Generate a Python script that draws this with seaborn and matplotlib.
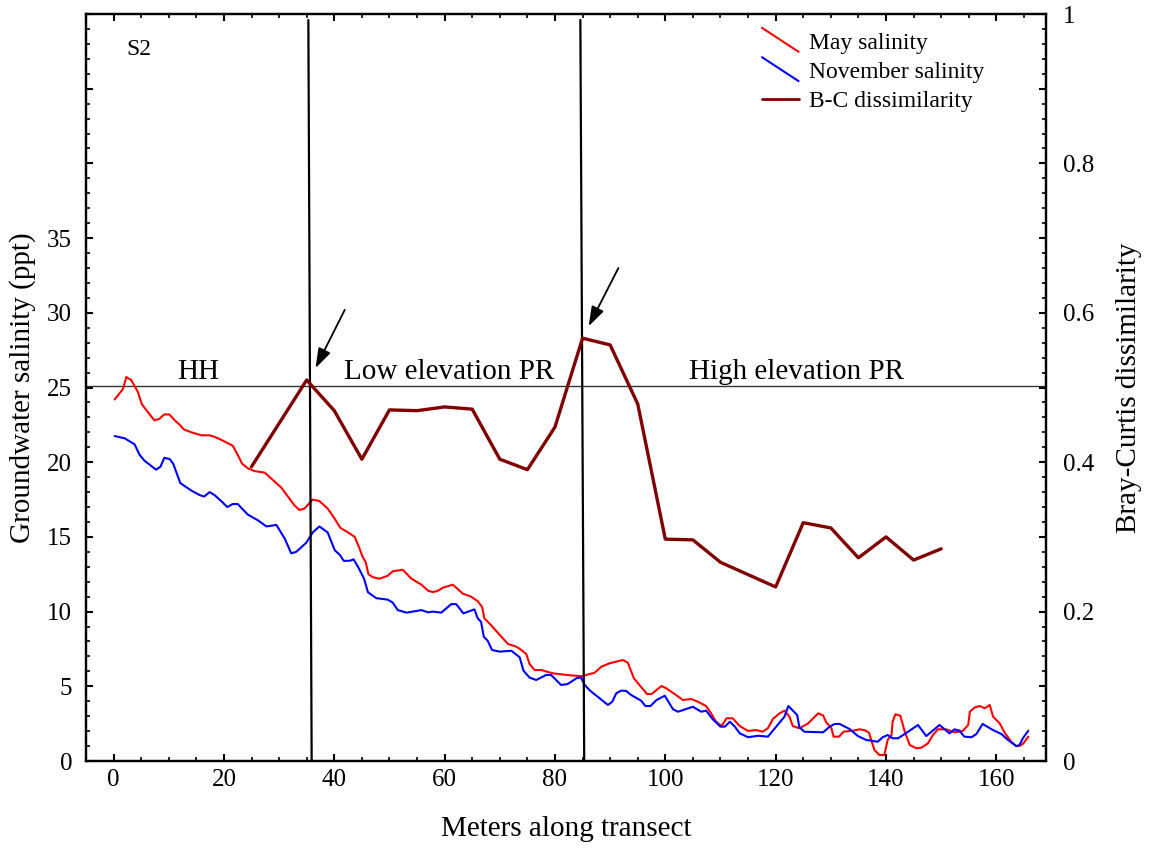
import matplotlib
matplotlib.use("Agg")
import matplotlib.pyplot as plt
from matplotlib.ticker import MultipleLocator, FuncFormatter
from matplotlib.legend_handler import HandlerBase
from matplotlib.lines import Line2D
import seaborn as sns

# --- Groundwater salinity along transect S2 (ppt) ---
may_m = [0.2, 1.7, 2.3, 3.2, 4.4, 5.1, 5.9, 7.4, 8.3, 9.2, 10.1, 11.1, 12.0, 12.7, 14.1,
         15.9, 17.4, 18.3, 19.5, 21.6, 22.5, 23.3, 24.3, 25.6, 27.4, 28.6, 30.4, 31.6, 32.8,
         33.7, 34.6, 36.1, 37.3, 38.8, 40.1, 41.1, 42.5, 43.7, 44.5, 45.1, 45.7, 46.2, 47.0,
         48.2, 49.7, 50.6, 52.4, 54.0, 55.8, 57.0, 57.9, 58.8, 59.7, 61.5, 63.3, 64.8, 66.0,
         66.8, 67.2, 68.5, 70.0, 71.5, 73.0, 73.9, 74.8, 75.4, 76.3, 77.5, 79.6, 82.1, 84.8,
         87.2, 88.4, 89.9, 91.1, 92.3, 93.2, 94.3, 95.3, 96.7, 97.5, 99.3, 100.2, 101.7, 103.2,
         104.7, 105.9, 107.4, 108.3, 109.2, 110.2, 111.1, 112.2, 113.5, 115.0, 116.5, 117.6,
         118.6, 119.5, 120.7, 121.6, 122.5, 123.1, 124.3, 125.9, 127.7, 128.6, 129.2, 130.1,
         130.5, 131.5, 132.3, 134.0, 135.2, 136.1, 136.9, 137.9, 138.8, 139.7, 140.3, 141.0,
         141.2, 141.7, 142.6, 143.4, 144.3, 145.5, 146.4, 147.6, 148.5, 149.4, 150.9, 152.4,
         153.9, 154.9, 155.2, 156.1, 157.0, 157.9, 158.8, 159.4, 160.6, 161.5, 162.7, 163.6,
         164.2, 164.9, 165.8]
may_ppt = [24.2, 24.9, 25.7, 25.5, 24.7, 23.9, 23.5, 22.8, 22.9, 23.2, 23.2, 22.8, 22.5, 22.2, 22.0,
           21.8, 21.8, 21.7, 21.5, 21.1, 20.5, 19.9, 19.6, 19.4, 19.3, 18.9, 18.3, 17.7, 17.1,
           16.8, 16.9, 17.5, 17.4, 16.9, 16.2, 15.6, 15.3, 15.0, 14.3, 13.7, 13.3, 12.5, 12.3,
           12.2, 12.4, 12.7, 12.8, 12.2, 11.8, 11.4, 11.3, 11.4, 11.6, 11.8, 11.2, 11.0, 10.7,
           10.3, 9.55, 9.06, 8.43, 7.83, 7.65, 7.43, 7.16, 6.49, 6.09, 6.09, 5.87, 5.76, 5.67,
           5.91, 6.31, 6.54, 6.65, 6.76, 6.58, 5.54, 5.09, 4.48, 4.48, 5.02, 4.86, 4.48, 4.08,
           4.15, 3.97, 3.68, 3.19, 2.63, 2.34, 2.86, 2.86, 2.34, 2.01, 2.07, 1.96,
           2.19, 2.81, 3.19, 3.37, 2.97, 2.34, 2.19, 2.52, 3.19, 3.05, 2.57, 2.20,
           1.63, 1.63, 1.96, 2.03, 2.12, 2.07, 1.90, 0.74, 0.40, 0.40, 1.41, 1.74,
           2.63, 3.13, 3.03, 1.96, 1.07, 0.85, 0.89, 1.18, 1.74, 2.12, 2.12, 1.92,
           2.01, 2.41, 3.30, 3.59, 3.68, 3.53, 3.75, 2.97, 2.52, 1.90, 1.29, 1.00,
           1.00, 1.18, 1.63]

nov_m = [0.2, 2.0, 3.8, 4.7, 5.6, 7.7, 8.5, 9.2, 10.2, 10.8, 12.1, 14.1, 15.6, 16.4, 17.4,
         18.3, 19.5, 20.6, 21.6, 22.5, 24.3, 26.2, 27.7, 29.5, 31.0, 32.2, 33.1, 34.9, 36.1,
         37.3, 38.8, 40.1, 41.0, 41.7, 42.8, 43.5, 44.3, 45.4, 46.1, 47.6, 49.7, 50.6, 51.5,
         53.1, 54.2, 55.8, 57.0, 57.9, 59.4, 61.2, 62.1, 63.4, 65.4, 66.0, 66.6, 67.1, 67.8,
         68.6, 70.0, 72.1, 73.6, 74.3, 75.4, 76.6, 78.4, 79.3, 81.1, 82.3, 83.9, 84.7, 85.4,
         86.3, 88.1, 89.6, 90.4, 91.1, 92.0, 92.9, 93.8, 95.6, 96.4, 97.3, 98.4, 99.9, 101.4,
         102.3, 105.0, 106.5, 107.4, 108.6, 110.0, 110.8, 111.7, 112.6, 113.5, 115.0, 116.8,
         118.6, 120.1, 121.6, 122.3, 123.9, 124.3, 125.2, 128.6, 129.8, 130.7, 131.6, 133.4,
         134.9, 136.4, 138.5, 139.4, 140.3, 141.2, 142.2, 144.0, 145.8, 147.3, 149.7, 151.5,
         152.4, 153.3, 154.2, 155.5, 156.4, 157.5, 159.4, 160.9, 162.1, 163.6, 164.2, 164.8,
         165.8]
nov_ppt = [21.75, 21.6, 21.2, 20.5, 20.1, 19.5, 19.7, 20.3, 20.2, 19.9, 18.6, 18.1, 17.8, 17.7, 18.0,
           17.8, 17.4, 17.0, 17.2, 17.2, 16.5, 16.1, 15.7, 15.8, 14.9, 13.9, 14.0, 14.6, 15.3,
           15.7, 15.3, 14.1, 13.8, 13.4, 13.4, 13.5, 13.0, 12.2, 11.3, 10.9, 10.8, 10.6, 10.1,
           9.93, 10.0, 10.1, 9.95, 10.0, 9.93, 10.5, 10.5, 9.88, 10.15, 9.55, 9.32, 8.32, 8.05,
           7.43, 7.32, 7.38, 6.94, 6.04, 5.58, 5.42, 5.76, 5.76, 5.09, 5.15, 5.54, 5.59, 5.09,
           4.73, 4.20, 3.75, 3.97, 4.53, 4.71, 4.69, 4.42, 4.04, 3.68, 3.68, 4.08, 4.37, 3.46,
           3.30, 3.63, 3.30, 3.37, 2.79, 2.30, 2.30, 2.63, 2.30, 1.85, 1.59, 1.69,
           1.63, 2.30, 2.97, 3.68, 3.08, 2.26, 1.96, 1.92, 2.30, 2.48, 2.48, 2.14,
           1.67, 1.41, 1.29, 1.59, 1.74, 1.52, 1.52, 1.96, 2.41, 1.67, 2.41, 1.85,
           2.12, 2.03, 1.63, 1.59, 1.81, 2.48, 2.07, 1.81, 1.41, 1.00, 1.07, 1.52,
           2.03]

# --- Bray-Curtis dissimilarity between adjacent windows ---
bc_m = [25, 35, 40, 45, 50, 55, 60, 65, 70, 75, 80, 85, 90, 95, 100, 105, 110, 120,
        125, 130, 135, 140, 145, 150]
bc_val = [0.394, 0.510, 0.469, 0.404, 0.470, 0.469, 0.474, 0.471, 0.404, 0.390, 0.447,
          0.566, 0.557, 0.478, 0.297, 0.296, 0.266, 0.233, 0.319, 0.312, 0.272, 0.300,
          0.269, 0.284]

# zone boundaries (top and bottom x of each hand-drawn divider) and threshold level
divider_top_m = [35.3, 84.6]
divider_bottom_m = [35.9, 85.3]
divider_top_ppt = 49.6
threshold_ppt = 25.1

zone_labels = ["HH", "Low elevation PR", "High elevation PR"]
zone_label_m = [15.4, 60.9, 123.8]
zone_label_ppt = 25.55

# arrows pointing at the dissimilarity peaks: (tail, head)
arrow_tails = [(41.9, 30.2), (91.5, 33.0)]
arrow_heads = [(36.6, 26.3), (86.1, 29.1)]

sns.set_style("ticks")
plt.rcParams["font.family"] = ["Liberation Serif", "DejaVu Serif"]
plt.rcParams["mathtext.fontset"] = "stix"
for key in ("text.color", "axes.labelcolor", "xtick.color", "ytick.color", "axes.edgecolor"):
    plt.rcParams[key] = "black"

fig = plt.figure(figsize=(11.5, 8.49), dpi=100)
ax = fig.add_axes([86 / 1150, 1 - 761 / 849, (1046 - 86) / 1150, (761 - 14) / 849])

red = "#ff0000"
blue = "#0000ff"
maroon = "#800000"

sns.lineplot(x=may_m, y=may_ppt, ax=ax, color=red, lw=1.5, estimator=None,
             label="May salinity", legend=False)
sns.lineplot(x=nov_m, y=nov_ppt, ax=ax, color=blue, lw=1.5, estimator=None,
             label="November salinity", legend=False)

ax.set_xlim(-5, 169)
ax.set_ylim(0, 50)

ax2 = ax.twinx()
sns.lineplot(x=bc_m, y=bc_val, ax=ax2, color=maroon, lw=2.4, estimator=None,
             label="B-C dissimilarity", legend=False)
ax2.set_ylim(0, 1)
ax2.set_xlim(-5, 169)

# threshold line and zone dividers
ax.axhline(threshold_ppt, color="#333333", lw=1.0, zorder=1)
for xt, xb in zip(divider_top_m, divider_bottom_m):
    ax.plot([xt, xb], [divider_top_ppt, 0], color="black", lw=1.6, zorder=3)

for lab, xm in zip(zone_labels, zone_label_m):
    ax.text(xm, zone_label_ppt, lab, ha="center", va="baseline", fontsize=21)

ax.text(4.5, 47.6, "S2", ha="center", va="center", fontsize=17)

for tail, head in zip(arrow_tails, arrow_heads):
    ax.annotate("", xy=head, xytext=tail,
                arrowprops=dict(arrowstyle="-|>,head_length=1.2,head_width=0.4",
                                color="black", lw=1.3, shrinkA=0, shrinkB=0))

# axes styling
for a in (ax, ax2):
    for sp in a.spines.values():
        sp.set_linewidth(1.6)
        sp.set_color("black")

ax.xaxis.set_major_locator(MultipleLocator(20))
ax.xaxis.set_minor_locator(MultipleLocator(5))
ax.yaxis.set_major_locator(MultipleLocator(5))
ax.yaxis.set_minor_locator(MultipleLocator(1))
ax.yaxis.set_major_formatter(FuncFormatter(lambda v, _: f"{v:g}" if v <= 35.01 else ""))
ax.xaxis.set_major_formatter(FuncFormatter(lambda v, _: f"{v:g}"))

ax2.yaxis.set_major_locator(MultipleLocator(0.1))
ax2.yaxis.set_minor_locator(MultipleLocator(0.02))
ax2.yaxis.set_major_formatter(
    FuncFormatter(lambda v, _: f"{round(v, 1):g}" if round(v * 10) % 2 == 0 else ""))

ax.tick_params(axis="x", which="both", direction="in", top=True, bottom=True,
               labelsize=18, pad=6, color="black")
ax.tick_params(axis="y", which="both", direction="in", left=True, right=False,
               labelsize=18, pad=10)
ax.tick_params(which="major", length=5, width=1.5)
ax.tick_params(which="minor", length=3, width=1.2)
ax2.tick_params(axis="y", which="both", direction="in", right=True, labelsize=18, pad=12)
ax2.tick_params(which="major", length=5, width=1.5)
ax2.tick_params(which="minor", length=3, width=1.2)

ax.set_xlabel("Meters along transect", fontsize=21, labelpad=18)
ax.set_ylabel("Groundwater salinity (ppt)", fontsize=21, labelpad=8)
ax2.set_ylabel("Bray-Curtis dissimilarity", fontsize=21, labelpad=16)


class DiagonalHandler(HandlerBase):
    """Legend key drawn as a short descending diagonal stroke."""

    def create_artists(self, legend, orig_handle, xdescent, ydescent, width, height,
                       fontsize, trans):
        line = Line2D([-xdescent, -xdescent + width],
                      [-ydescent + height * 1.25, -ydescent - height * 0.2],
                      color=orig_handle.get_color(), lw=orig_handle.get_linewidth(),
                      transform=trans)
        return [line]


h1, l1 = ax.get_legend_handles_labels()
h2, l2 = ax2.get_legend_handles_labels()
leg = ax2.legend(h1 + h2, l1 + l2, loc="upper left",
                 bbox_to_anchor=(762 / 1150, 1 - 32 / 849), bbox_transform=fig.transFigure,
                 frameon=False, fontsize=17, handlelength=1.55, handletextpad=0.45,
                 labelspacing=0.33, borderaxespad=0, borderpad=0,
                 handler_map={h1[0]: DiagonalHandler(), h1[1]: DiagonalHandler()})
leg.get_lines()[-1].set_linewidth(2.0) if leg.get_lines() else None

fig.savefig("out.png", dpi=100)
